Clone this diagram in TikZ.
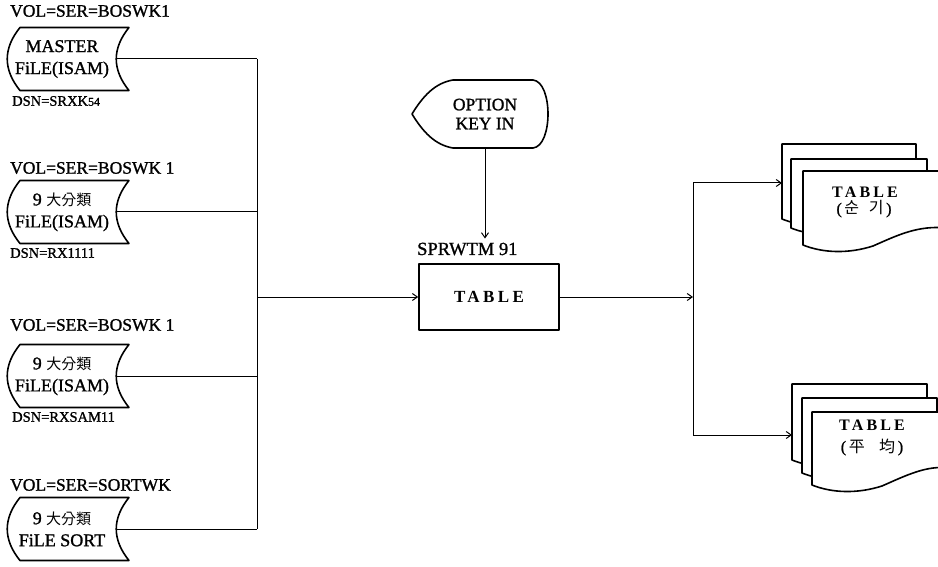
\documentclass[tikz,border=0pt]{standalone}
\usepackage{fontspec}
\setmainfont[FakeBold=1.2]{Liberation Serif}
\newfontfamily\krfont{Noto Sans CJK KR}
\newfontfamily\spfont[LetterSpace=20]{Liberation Serif}
\usetikzlibrary{arrows.meta}
\newcommand\fs[2]{\fontsize{#1}{#2}\selectfont}
\newcommand\storpath[1]{\draw[shp, shift={(#1.center)}] (-42,-31.5) -- (67,-31.5) .. controls (50,-10.5) and (50,10.5) .. (67,31.5) -- (-42,31.5) .. controls (-59,10.5) and (-59,-10.5) .. cycle;}
\newcommand\docsheet[4]{\filldraw[shp, fill=white] (#1,#2) -- (#3,#2) -- (#3,#4-17) .. controls (#1+115,#4-20) and (#1+95,#4-10) .. (#1+70,#4+1) .. controls (#1+45,#4+9) and (#1+20,#4+8) .. (#1,#4) -- cycle;}
\tikzset{
  conn/.style={line width=1pt},
  shp/.style={line width=1.6pt, line join=round},
  arr/.style={line width=1pt, -{Straight Barb[length=5pt,width=7pt]}},
  stor/.style={inner sep=0pt, minimum width=108pt, minimum height=63pt, align=center, font=\fs{18}{22}},
  lbl/.style={anchor=west, inner sep=0pt, font=\fs{17.5}{20}},
  dsn/.style={anchor=west, inner sep=0pt, font=\fs{14.5}{16}},
  dtxt/.style={inner sep=0pt},
}
\begin{document}
\begin{tikzpicture}[x=1pt,y=-1pt]
\clip (0,0) rectangle (938,567);
\fill[white] (0,0) rectangle (938,567);

% labels
\node[lbl] (v1) at (10,11) {VOL=SER=BOSWK1};
\node[lbl] (v2) at (10,168) {VOL=SER=BOSWK 1};
\node[lbl] (v3) at (10,325) {VOL=SER=BOSWK 1};
\node[lbl] (v4) at (10,485) {VOL=SER=SORTWK};
\node[dsn] (n1) at (12,101) {DSN=SRXK{\fs{12}{14}54}};
\node[dsn] (n2) at (10,253) {DSN=RX1111};
\node[dsn] (n3) at (12,417) {DSN=RXSAM11};

% storage nodes
\node[stor] (s1) at (62,59) {MASTER\\FiLE(ISAM)};
\node[stor] (s2) at (62,212) {9 {\krfont\fs{15}{22}大分類}\\FiLE(ISAM)};
\node[stor] (s3) at (62,376) {9 {\krfont\fs{15}{22}大分類}\\FiLE(ISAM)};
\node[stor] (s4) at (62,529) {9 {\krfont\fs{15}{22}大分類}\\FiLE SORT};
\storpath{s1}
\storpath{s2}
\storpath{s3}
\storpath{s4}

% bus
\coordinate (bus) at (257,297);
\draw[conn] (s1.east) -- (s1.east -| bus);
\draw[conn] (s2.east) -- (s2.east -| bus);
\draw[conn] (s3.east) -- (s3.east -| bus);
\draw[conn] (s4.east) -- (s4.east -| bus);
\draw[conn] (s1.east -| bus) -- (s4.east -| bus);

% option key in
\node[inner sep=0pt, align=center, font=\fs{17.5}{19}] (opt) at (485,114) {OPTION\\KEY IN};
\draw[shp, shift={(opt.center)}] (-73,0) .. controls (-62,-18) and (-50,-31) .. (-32,-34) -- (48,-34) .. controls (68,-32) and (68,32) .. (48,34) -- (-32,34) .. controls (-50,31) and (-62,18) .. cycle;
\coordinate (optb) at (485,148);

% table box
\node[draw, shp, minimum width=140pt, minimum height=66pt, inner sep=0pt, font=\spfont\bfseries\fs{17}{20}] (tbl) at (489,297) {TABLE};
\node[anchor=west, inner sep=0pt, font=\fs{18.5}{20}] (prog) at (417,249) {SPRWTM 91};

\draw[arr] (bus) -- (tbl.west);
\draw[arr] (optb) -- ([yshift=4pt]optb |- prog.north);

% right split
\coordinate (split) at (693,297);
\coordinate (d1in) at (782,183);
\coordinate (d2in) at (792,435);
\draw[arr] (tbl.east) -- (split);
\draw[arr] (split) |- (d1in);
\draw[arr] (split) |- (d2in);

% document stacks
\docsheet{782}{144}{916}{219}
\docsheet{791}{159}{927}{228}
\docsheet{803}{171}{948}{245}
\node[dtxt, font=\spfont\bfseries\fs{16}{16}] (dt1) at (865,192) {TABLE};
\node[dtxt, font=\fs{16}{16}] (dt1b) at (864,209) {(\,{\krfont 순}\hspace{0.6em}{\krfont 기}\,)};

\docsheet{792}{384}{927}{460}
\docsheet{802}{398}{937}{473}
\docsheet{812}{412}{950}{485}
\node[dtxt, font=\spfont\bfseries\fs{16}{16}] (dt2) at (872,425) {TABLE};
\node[dtxt, font=\fs{16}{16}] (dt2b) at (872,447) {(\,{\krfont 平}\hspace{0.9em}{\krfont 均}\,)};
\end{tikzpicture}
\end{document}
